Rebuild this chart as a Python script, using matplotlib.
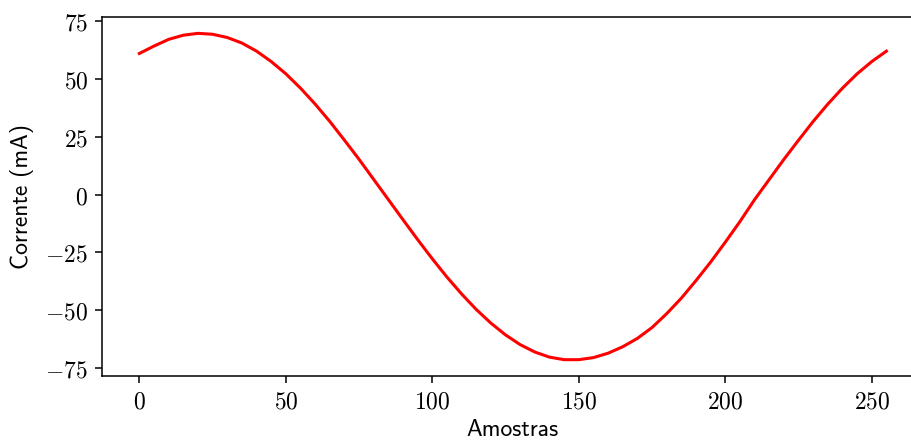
import matplotlib
matplotlib.use("Agg")
import matplotlib.pyplot as plt
from matplotlib.ticker import FuncFormatter

plt.rcParams['mathtext.fontset'] = 'cm'

# samples (every 5 samples)
amostras = [0, 5, 10, 15, 20, 25, 30, 35, 40, 45, 50, 55, 60, 65, 70, 75, 80,
            85, 90, 95, 100, 105, 110, 115, 120, 125, 130, 135, 140, 145, 150,
            155, 160, 165, 170, 175, 180, 185, 190, 195, 200, 205, 210, 215,
            220, 225, 230, 235, 240, 245, 250, 255]
corrente = [61.0, 64.2, 67.1, 68.9, 69.7, 69.3, 67.9, 65.5, 62.0, 57.5, 52.2,
            46.0, 39.1, 31.6, 23.5, 15.2, 6.5, -2.2, -10.9, -19.5, -27.8,
            -35.7, -43.0, -49.7, -55.6, -60.7, -64.9, -68.1, -70.3, -71.4,
            -71.4, -70.5, -68.6, -65.8, -62.2, -57.5, -51.5, -44.8, -37.2,
            -29.2, -20.6, -11.7, -2.2, 6.5, 15.2, 23.5, 31.6, 39.1, 46.0,
            52.2, 57.5, 62.0]

fig = plt.figure(figsize=(9.11, 4.41), dpi=100)
ax = fig.add_axes([0.112, 0.1474, 0.902, 0.814])

ax.plot(amostras, corrente, color='red', linewidth=2.2)

ax.set_xticks([0, 50, 100, 150, 200, 250])
ax.set_yticks([-75, -50, -25, 0, 25, 50, 75])
ax.xaxis.set_major_formatter(FuncFormatter(lambda v, p: r'$%d$' % v))
ax.yaxis.set_major_formatter(FuncFormatter(lambda v, p: r'$%d$' % v))
ax.tick_params(labelsize=17, length=5, width=1.1, pad=5)
for s in ax.spines.values():
    s.set_linewidth(1.1)

ax.set_xlabel('Amostras', family='cmss10', fontsize=17, labelpad=4)
ax.set_ylabel('Corrente (mA)', family='cmss10', fontsize=17, labelpad=8)

fig.savefig('out.png', dpi=100)
